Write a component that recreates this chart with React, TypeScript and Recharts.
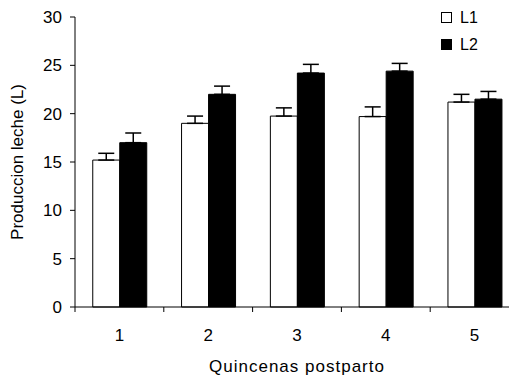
import React from "react";
import { BarChart, Bar, XAxis, YAxis, ErrorBar } from "recharts";

const quincenas = ["1", "2", "3", "4", "5"];
const l1 = [15.2, 19.0, 19.75, 19.7, 21.2];
const l2 = [17.0, 22.0, 24.2, 24.4, 21.5];
const l1Err = [0.7, 0.75, 0.85, 1.0, 0.8];
const l2Err = [1.0, 0.85, 0.9, 0.8, 0.8];
const yTicks = [0, 5, 10, 15, 20, 25, 30];

const data = quincenas.map((q, i) => ({
  q,
  L1: l1[i],
  L2: l2[i],
  e1: [0, l1Err[i]],
  e2: [0, l2Err[i]],
}));

const FONT = "'Liberation Sans', Arial, Helvetica, sans-serif";

// tick marks sit between categories, label in the middle
function QTick(props: any) {
  const { x, y, payload, index } = props;
  const half = payload?.offset ?? 44;
  return (
    <g>
      <line x1={x - half} y1={y} x2={x - half} y2={y + 5} stroke="#000" strokeWidth={1} />
      {index === quincenas.length - 1 && (
        <line x1={x + half} y1={y} x2={x + half} y2={y + 5} stroke="#000" strokeWidth={1} />
      )}
      <text x={x} y={y + 28} textAnchor="middle" dominantBaseline="central" fontSize={17} fontFamily={FONT} fill="#000">
        {payload.value}
      </text>
    </g>
  );
}

function LegendBox() {
  const items = [
    { name: "L1", fill: "#fff" },
    { name: "L2", fill: "#000" },
  ];
  return (
    <div style={{ position: "absolute", left: 441, top: 4, fontFamily: FONT, fontSize: 16, color: "#000" }}>
      {items.map((it) => (
        <div key={it.name} style={{ display: "flex", alignItems: "center", height: 27 }}>
          <span style={{ display: "inline-block", width: 9, height: 9, border: "1px solid #000", background: it.fill, marginRight: 8 }} />
          <span>{it.name}</span>
        </div>
      ))}
    </div>
  );
}

export default function App() {
  return (
    <div style={{ position: "absolute", left: 0, top: 0, width: 509, height: 379, overflow: "hidden", background: "#fff" }}>
      <BarChart
        width={525}
        height={379}
        data={data}
        margin={{ top: 17, right: 6, left: 0, bottom: 0 }}
        barCategoryGap="20%"
        barGap={0}
      >
        <XAxis
          dataKey="q"
          height={72}
          axisLine={{ stroke: "#000", strokeWidth: 1 }}
          tickLine={false}
          tickSize={0}
          tickMargin={0}
          tick={<QTick />}
          interval={0}
          label={{ value: "Quincenas postparto", position: "center", dy: 23, fontSize: 17, fontFamily: FONT, fill: "#000", letterSpacing: 1 }}
        />
        <YAxis
          domain={[0, 30]}
          ticks={yTicks}
          width={75}
          axisLine={{ stroke: "#000", strokeWidth: 1 }}
          tickLine={{ stroke: "#000" }}
          tickSize={5}
          tickMargin={8}
          tick={{ fontSize: 17, fontFamily: FONT, fill: "#000" }}
          label={{ value: "Produccion leche (L)", angle: -90, position: "center", dx: -21, fontSize: 17, fontFamily: FONT, fill: "#000" }}
        />
        <Bar dataKey="L1" fill="#fff" stroke="#000" strokeWidth={1} isAnimationActive={false}>
          <ErrorBar dataKey="e1" width={8} stroke="#000" strokeWidth={1.5} />
        </Bar>
        <Bar dataKey="L2" fill="#000" stroke="#000" strokeWidth={1} isAnimationActive={false}>
          <ErrorBar dataKey="e2" width={8} stroke="#000" strokeWidth={1.5} />
        </Bar>
      </BarChart>
      <LegendBox />
    </div>
  );
}
